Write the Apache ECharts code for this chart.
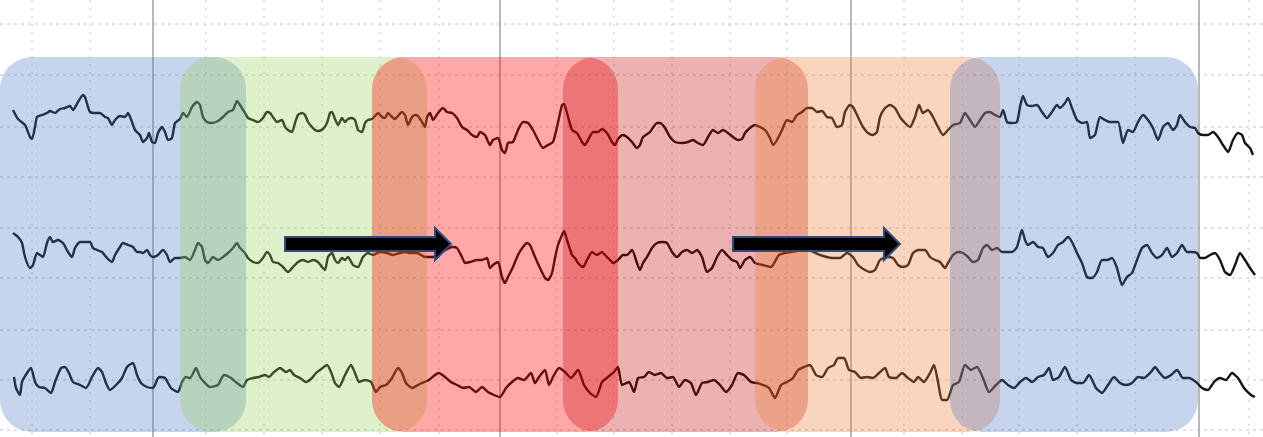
<!DOCTYPE html>
<html lang="en">
<head>
<meta charset="UTF-8">
<title>EEG segments</title>
<script src="https://cdn.jsdelivr.net/npm/echarts@6/dist/echarts.min.js"></script>
<style>
  body{margin:0;background:#fff}
  #chart{width:1263px;height:437px}
</style>
</head>
<body>
<div id="chart"></div>
<script>
// x = sample index, y = amplitude (uV) added to each channel's baseline
var majorLines = [153, 500, 851, 1199];
var minorLines = [32, 90, 206, 264, 322, 380, 439, 557, 614, 672, 730, 787, 904, 962, 1019, 1077, 1135, 1249];
var levelLines = [413, 362, 310, 260, 209, 159, 107, 57, 7];
var channelBase = [312, 182, 57];

var bandStart = [0, 180, 372, 563, 755, 950];
var bandEnd = [246, 427, 618, 808, 1000, 1198];
var bandTop = 380, bandBottom = 5;
var bandColors = ['rgba(68,114,196,0.3)', 'rgba(146,208,80,0.3)', 'rgba(255,0,0,0.34)',
                  'rgba(192,0,0,0.3)', 'rgba(237,125,49,0.32)', 'rgba(68,114,196,0.3)'];

var arrowFrom = [285, 733];
var arrowTo = [451, 900];
var arrowLevel = 193;

var ch1 = [[13,15],[18,6],[25,0],[30,-12],[32,-14],[35,-2],[37,8],[42,10],[47,12],[50,14],[55,12],[60,16],[65,17],[70,19],[73,15],[78,23],[83,30],[85,28],[88,18],[90,13],[95,12],[100,12],[105,8],[108,7],[112,0],[115,5],[120,9],[125,8],[128,12],[132,3],[135,-5],[140,-10],[143,-17],[147,-13],[149,-8],[152,-17],[155,-18],[158,-8],[162,-2],[165,-7],[168,-15],[172,-13],[175,2],[180,6],[183,12],[187,8],[192,18],[197,23],[200,20],[203,8],[207,3],[212,2],[218,4],[223,8],[228,13],[233,15],[237,24],[240,20],[245,12],[248,7],[253,5],[258,3],[263,7],[267,13],[270,12],[273,8],[277,3],[282,5],[285,-2],[288,-5],[292,-7],[295,2],[298,10],[302,12],[305,10],[308,3],[312,-2],[315,-5],[318,-6],[323,-4],[327,2],[330,12],[332,13],[335,6],[338,0],[342,7],[345,3],[348,6],[352,7],[355,5],[358,-5],[362,-7],[365,2],[368,5],[372,6],[375,9],[378,12],[382,8],[385,7],[388,12],[392,8],[395,6],[398,9],[402,13],[405,10],[408,0],[412,8],[415,10],[418,9],[422,3],[425,-2],[427,8],[430,12],[433,5],[438,12],[443,17],[447,13],[452,12],[457,7],[462,-2],[467,-5],[472,-10],[477,-12],[480,-7],[485,-10],[490,-20],[493,-15],[498,-13],[502,-25],[505,-28],[508,-18],[513,-17],[518,-5],[523,3],[528,2],[533,-5],[538,-15],[543,-23],[548,-20],[553,-17],[557,-2],[562,20],[564,21],[567,12],[572,-5],[577,-8],[582,-17],[585,-20],[588,-15],[593,-7],[598,-7],[602,-4],[607,-8],[612,-17],[615,-20],[618,-14],[623,-10],[627,-12],[632,-17],[637,-23],[640,-20],[643,-12],[650,-7],[657,2],[660,2],[665,-3],[670,-12],[675,-17],[682,-18],[688,-17],[693,-15],[698,-18],[703,-20],[708,-12],[713,-5],[718,-8],[723,-5],[728,-8],[733,-12],[738,-15],[742,-14],[745,-8],[750,-3],[755,0],[760,-2],[765,-5],[770,-13],[773,-20],[777,-15],[782,-5],[787,5],[792,3],[797,10],[802,13],[807,17],[812,17],[817,13],[822,14],[827,8],[832,7],[837,-2],[842,0],[845,13],[850,20],[853,18],[858,8],[863,-2],[868,-8],[873,-10],[877,-7],[880,8],[885,17],[890,20],[895,17],[900,8],[905,2],[910,-2],[915,8],[919,20],[923,12],[928,15],[933,8],[938,-2],[943,-10],[948,-5],[953,0],[960,2],[965,12],[970,5],[975,-2],[980,5],[985,12],[990,13],[995,10],[1000,8],[1003,15],[1007,3],[1012,2],[1017,3],[1020,18],[1023,29],[1027,20],[1032,19],[1037,20],[1042,13],[1047,7],[1052,13],[1057,20],[1060,17],[1065,22],[1068,27],[1072,17],[1077,5],[1082,2],[1087,3],[1090,-13],[1095,-10],[1100,8],[1105,5],[1110,3],[1118,3],[1123,-18],[1128,-5],[1133,-7],[1138,3],[1143,10],[1148,5],[1153,-3],[1158,-15],[1163,-2],[1168,2],[1173,-5],[1177,0],[1180,10],[1185,3],[1190,-2],[1195,-3],[1198,-8],[1203,-10],[1208,-10],[1213,-7],[1218,-12],[1223,-20],[1228,-27],[1233,-15],[1238,-8],[1242,-10],[1245,-18],[1250,-23],[1253,-30]];

var ch2 = [[13,22],[18,18],[22,12],[25,-2],[30,-13],[33,-10],[37,2],[40,0],[43,-2],[47,12],[50,18],[53,13],[58,15],[63,12],[68,3],[72,-2],[75,7],[80,13],[85,13],[90,13],[93,7],[97,5],[102,3],[107,-3],[112,-7],[115,0],[120,8],[123,12],[128,10],[133,8],[137,3],[140,3],[143,2],[147,5],[150,0],[153,-2],[158,0],[163,5],[167,0],[170,-7],[175,-3],[180,-3],[185,-2],[190,-5],[195,5],[198,12],[202,8],[205,-5],[208,-8],[213,-2],[218,-5],[223,-2],[228,2],[233,7],[237,12],[240,7],[245,2],[248,-3],[253,-7],[258,-8],[263,-3],[267,3],[270,0],[273,-7],[278,-8],[283,-12],[288,-17],[293,-12],[298,-7],[303,-5],[308,-7],[313,-5],[318,-7],[322,-12],[325,-15],[328,-2],[332,2],[335,-5],[338,-8],[342,-3],[345,-5],[348,-2],[353,-10],[358,-12],[363,-2],[368,2],[373,0],[380,3],[387,2],[393,0],[400,2],[405,3],[410,2],[417,2],[425,-2],[433,-2],[442,3],[452,8],[457,7],[462,-2],[465,-8],[470,-7],[477,-5],[482,-5],[487,-3],[490,-13],[493,-10],[498,-7],[502,-22],[505,-28],[508,-22],[513,-12],[518,0],[523,8],[527,12],[530,10],[535,-2],[540,-13],[545,-23],[548,-25],[552,-18],[555,-3],[558,10],[562,20],[564,24],[567,15],[572,0],[575,-3],[578,-8],[583,-12],[587,-5],[592,3],[597,0],[602,3],[605,0],[610,-5],[613,-8],[618,-5],[623,0],[627,0],[632,5],[637,-8],[640,-15],[643,-8],[647,-2],[652,7],[657,12],[662,13],[667,12],[672,3],[677,-2],[682,3],[687,5],[692,2],[697,5],[702,-2],[707,-17],[712,-13],[717,-2],[722,5],[727,0],[732,-5],[737,-7],[740,-13],[745,-5],[750,-2],[755,-8],[763,-10],[771,-12],[779,0],[791,3],[808,5],[820,0],[832,-3],[840,-3],[847,2],[853,-2],[858,-10],[865,-15],[870,-17],[875,-15],[880,-5],[887,-2],[893,-3],[898,-10],[903,-12],[908,-10],[913,2],[918,5],[925,5],[930,-2],[935,-5],[940,-7],[945,-13],[948,-8],[953,0],[958,3],[963,2],[968,-2],[973,-7],[978,-5],[983,7],[987,10],[992,5],[997,7],[1002,3],[1007,3],[1012,3],[1017,8],[1022,25],[1025,15],[1028,10],[1033,13],[1038,8],[1043,7],[1048,-2],[1053,2],[1058,10],[1063,13],[1068,18],[1072,13],[1077,2],[1082,-8],[1087,-22],[1092,-23],[1097,-17],[1102,-5],[1107,-5],[1112,-3],[1117,-13],[1122,-30],[1127,-22],[1132,-18],[1137,-5],[1142,7],[1147,10],[1152,2],[1157,-3],[1162,0],[1167,7],[1172,-2],[1177,2],[1182,10],[1187,3],[1192,3],[1197,2],[1200,-3],[1205,-3],[1210,0],[1215,2],[1220,-5],[1225,-17],[1230,-20],[1235,-10],[1240,2],[1245,-5],[1250,-13],[1255,-20]];

var ch3 = [[14,3],[16,-8],[20,-15],[22,-2],[27,7],[31,12],[35,-2],[39,-7],[45,-8],[51,-13],[55,-2],[61,12],[65,13],[69,7],[73,-2],[80,-5],[86,-8],[92,3],[98,12],[102,8],[106,-3],[110,-10],[116,-5],[122,2],[127,13],[133,17],[137,5],[141,-3],[147,-7],[153,-8],[159,3],[165,2],[171,-8],[178,-12],[182,-2],[186,3],[190,2],[196,12],[200,3],[204,-2],[210,-7],[218,-5],[224,5],[231,2],[237,-3],[243,-7],[247,0],[253,2],[259,3],[265,5],[269,3],[273,7],[280,12],[286,8],[290,10],[294,5],[300,2],[306,-2],[312,2],[316,7],[320,10],[327,15],[331,8],[335,-3],[339,-7],[345,5],[351,15],[355,7],[359,-2],[365,0],[371,-2],[376,-12],[380,-7],[386,-5],[392,2],[398,12],[402,7],[406,-3],[412,-8],[418,-5],[422,-3],[429,0],[435,5],[439,7],[445,3],[451,-2],[457,-5],[463,-8],[469,-7],[476,-12],[482,-7],[488,-12],[494,-15],[500,-17],[506,-8],[512,-2],[518,2],[524,0],[531,7],[535,-3],[539,3],[545,10],[549,-5],[553,3],[559,12],[565,8],[571,2],[578,10],[584,-5],[590,-13],[596,-17],[602,-2],[608,3],[614,8],[618,13],[622,-5],[629,-2],[634,-12],[638,2],[644,3],[649,8],[655,5],[661,7],[667,2],[673,3],[679,-7],[685,0],[691,-3],[696,-15],[702,-3],[708,-2],[714,0],[720,-5],[726,-12],[732,-5],[738,7],[744,5],[751,-2],[757,-3],[763,-5],[769,-8],[775,-18],[781,-5],[787,-2],[793,2],[798,10],[804,13],[810,15],[816,5],[822,3],[828,12],[834,15],[838,22],[844,22],[849,10],[855,8],[861,2],[867,3],[873,2],[879,7],[885,12],[889,3],[896,2],[902,7],[908,2],[914,-2],[918,3],[924,-2],[930,7],[934,15],[938,-2],[942,-20],[947,-20],[953,-5],[959,-2],[965,15],[971,10],[977,13],[983,2],[989,-12],[996,-5],[1002,0],[1008,-5],[1014,-8],[1020,-2],[1026,2],[1032,-2],[1038,3],[1044,5],[1049,12],[1053,0],[1059,3],[1065,13],[1071,0],[1077,-3],[1083,-3],[1089,5],[1096,-8],[1102,-13],[1108,-5],[1114,3],[1120,-3],[1126,-5],[1132,-3],[1138,3],[1144,2],[1151,8],[1155,13],[1159,8],[1165,2],[1171,5],[1177,10],[1183,2],[1189,2],[1196,-2],[1202,-8],[1208,-10],[1214,-2],[1220,2],[1226,0],[1232,7],[1238,2],[1244,-8],[1251,-15],[1255,-17]];

var X_MAX = 1263, Y_MAX = 437;

var chart = echarts.init(document.getElementById('chart'));

function vLine(color, width, dash) {
    return function (params, api) {
        var a = api.coord([api.value(0), Y_MAX]);
        var b = api.coord([api.value(0), 0]);
        return {type: 'line', shape: {x1: a[0], y1: a[1], x2: b[0], y2: b[1]},
                style: {stroke: color, lineWidth: width, lineDash: dash}};
    };
}
function hLine(params, api) {
    var a = api.coord([0, api.value(1)]);
    var b = api.coord([X_MAX, api.value(1)]);
    return {type: 'line', shape: {x1: a[0], y1: a[1], x2: b[0], y2: b[1]},
            style: {stroke: '#c2c2c2', lineWidth: 1, lineDash: [3, 4]}};
}

function trace(data, base) {
    return {
        type: 'line', z: 2, silent: true, showSymbol: false, smooth: 0.2,
        data: data.map(function (p) { return [p[0], base + p[1]]; }),
        lineStyle: {color: '#141414', width: 2.4}
    };
}

var series = [
    {type: 'custom', z: 1, silent: true, data: minorLines.map(function (v) { return [v, 0]; }),
     renderItem: vLine('#c6c6c6', 1, [2, 6])},
    {type: 'custom', z: 1, silent: true, data: levelLines.map(function (v) { return [0, v]; }),
     renderItem: hLine},
    {type: 'custom', z: 1, silent: true, data: majorLines.map(function (v) { return [v, 0]; }),
     renderItem: vLine('#a8a8a8', 1.6, null)},
    trace(ch1, channelBase[0]),
    trace(ch2, channelBase[1]),
    trace(ch3, channelBase[2]),
    {
        type: 'custom', z: 3, silent: true,
        data: bandStart.map(function (s, i) { return [s, bandEnd[i], i]; }),
        renderItem: function (params, api) {
            var p0 = api.coord([api.value(0), bandTop]);
            var p1 = api.coord([api.value(1), bandBottom]);
            return {type: 'rect',
                    shape: {x: p0[0], y: p0[1], width: p1[0] - p0[0], height: p1[1] - p0[1], r: 32},
                    style: {fill: bandColors[api.value(2)]}};
        }
    },
    {
        type: 'custom', z: 4, silent: true,
        data: arrowFrom.map(function (s, i) { return [s, arrowTo[i], arrowLevel]; }),
        renderItem: function (params, api) {
            var a = api.coord([api.value(0), api.value(2)]);
            var b = api.coord([api.value(1), api.value(2)]);
            var y = a[1], hx = b[0] - 16;
            return {type: 'polygon',
                    shape: {points: [[a[0], y - 7], [hx, y - 7], [hx, y - 16], [b[0], y],
                                     [hx, y + 16], [hx, y + 7], [a[0], y + 7]]},
                    style: {fill: '#000', stroke: '#2f4b7c', lineWidth: 2}};
        }
    }
];

var option = {
    animation: false,
    grid: {left: 0, right: 0, top: 0, bottom: 0},
    xAxis: {type: 'value', min: 0, max: X_MAX, show: false},
    yAxis: {type: 'value', min: 0, max: Y_MAX, show: false},
    series: series
};

chart.setOption(option);
</script>
</body>
</html>
